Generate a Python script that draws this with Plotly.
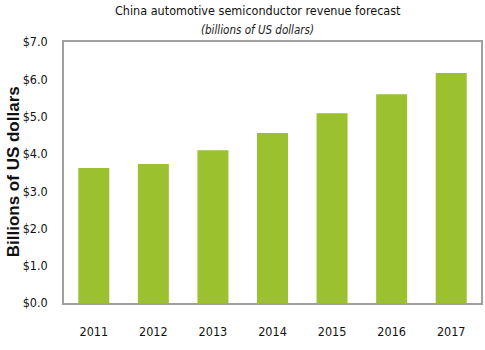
import plotly.graph_objects as go

years = ["2011", "2012", "2013", "2014", "2015", "2016", "2017"]
revenue = [3.62, 3.73, 4.10, 4.56, 5.09, 5.60, 6.17]
tick_vals = [0, 1, 2, 3, 4, 5, 6, 7]
tick_text = ["$0.0", "$1.0", "$2.0", "$3.0", "$4.0", "$5.0", "$6.0", "$7.0"]

narrow = "Liberation Sans Narrow, Arial Narrow, DejaVu Sans Condensed, sans-serif"

W, H = 485, 350
l, r, t, b = 64, 2, 42, 47
pw, ph = W - l - r, H - t - b

def px_x(x):
    return (x - l) / pw

def px_y(y):
    return (H - b - y) / ph

fig = go.Figure(go.Bar(x=years, y=revenue, marker_color="#9CC12E", marker_line_width=0))

fig.update_layout(
    width=W, height=H,
    margin=dict(l=l, r=r, t=t, b=b),
    paper_bgcolor="white", plot_bgcolor="white",
    bargap=0.48,
    showlegend=False,
    xaxis=dict(showline=True, linecolor="#A0A0A0", linewidth=1.5, mirror=True,
               ticks="", tickfont=dict(family=narrow, size=12.5, color="#111"),
               ticklabelstandoff=16),
    yaxis=dict(range=[0, 7], tickvals=tick_vals, ticktext=tick_text,
               showgrid=False, zeroline=False, showline=True, linecolor="#A0A0A0",
               linewidth=1.5, mirror=True, ticks="",
               tickfont=dict(family=narrow, size=12.5, color="#111"),
               ticklabelstandoff=12),
    annotations=[
        dict(text="China automotive semiconductor revenue forecast", x=px_x(259), y=px_y(10),
             xref="paper", yref="paper", yanchor="middle", xanchor="center",
             showarrow=False, font=dict(family=narrow, size=12.5, color="#111")),
        dict(text="<i>(billions of US dollars)</i>", x=px_x(258), y=px_y(30),
             xref="paper", yref="paper", yanchor="middle", xanchor="center",
             showarrow=False, font=dict(family=narrow, size=11.5, color="#222")),
        dict(text="<b>Billions of US dollars</b>", x=px_x(13), y=px_y(172), textangle=-90,
             xref="paper", yref="paper", xanchor="center", yanchor="middle",
             showarrow=False, font=dict(family="Liberation Sans, Arial, sans-serif", size=17, color="#111")),
    ],
)

fig.write_html("out.html")
